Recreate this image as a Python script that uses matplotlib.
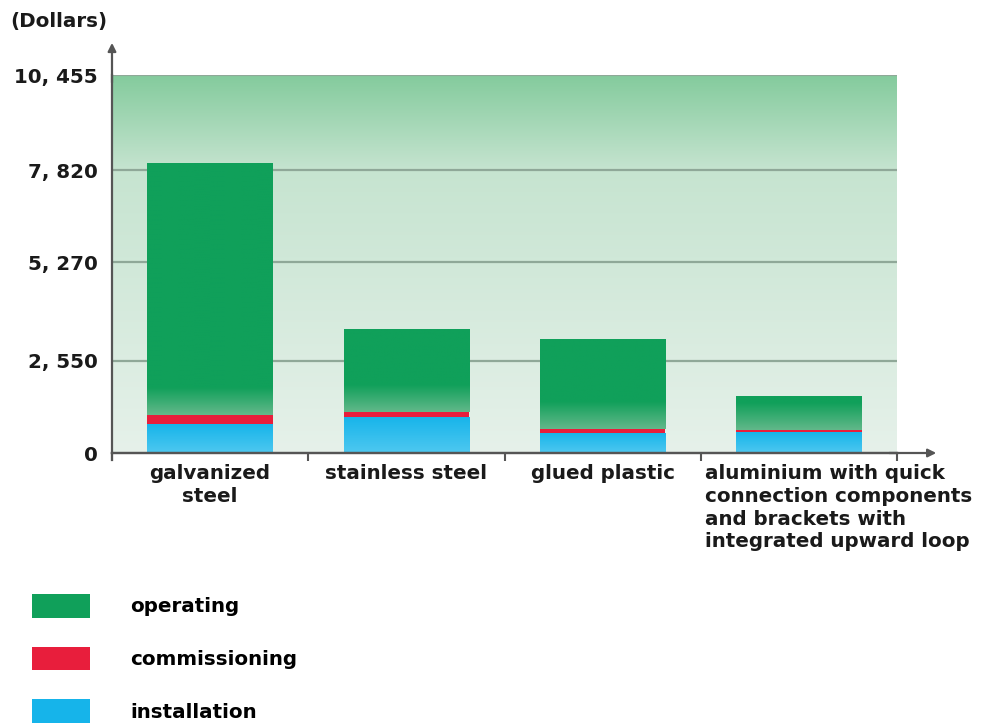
import numpy as np
import matplotlib
matplotlib.use("Agg")
import matplotlib.pyplot as plt
from matplotlib.patches import Patch
from matplotlib.colors import to_rgb
import matplotlib.transforms as mtransforms

# ---- data ----
categories = ["galvanized\nsteel", "stainless steel", "glued plastic",
              "aluminium with quick\nconnection components\nand brackets with\nintegrated upward loop"]
installation = [800, 1000, 555, 580]
commissioning = [250, 135, 110, 60]
operating = [6970, 2295, 2490, 935]
ytick_values = [0, 2550, 5270, 7820, 10455]
ytick_labels = ["0", "2, 550", "5, 270", "7, 820", "10, 455"]
series_names = ["operating", "commissioning", "installation"]

# ---- style ----
c_oper = "#10a05a"
c_oper_light = "#62b88a"
c_comm = "#e81e3c"
c_inst = "#16b4ea"
c_inst_light = "#4ec8f0"
axis_col = "#555555"
grid_col = "#8fa898"
FS = 14.3
plt.rcParams['font.family'] = ['DejaVu Sans']
plt.rcParams['font.weight'] = 'bold'

W, H = 988, 725
fig = plt.figure(figsize=(W / 100, H / 100), dpi=100)
ax = fig.add_axes([112 / W, 1 - 453 / H, (897 - 112) / W, (453 - 75) / H])

ymax = ytick_values[-1]
x = np.arange(len(categories))
width = 0.64

# background gradient
ny = 256
top = np.array(to_rgb("#84cb9d"))
mid = np.array(to_rgb("#c6e4d0"))
bot = np.array(to_rgb("#e6f1ea"))
img = np.zeros((ny, 2, 3))
for i, tv in enumerate(np.linspace(0, 1, ny)):
    if tv > 0.75:
        s = (tv - 0.75) / 0.25
        c = mid * (1 - s) + top * s
    else:
        s = tv / 0.75
        c = bot * (1 - s) + mid * s
    img[i, :, :] = c
ax.imshow(img, extent=[-0.5, 3.5, 0, ymax], origin="lower", aspect="auto", zorder=0,
          interpolation="bilinear")

# grid lines
for v in ytick_values[1:]:
    ax.axhline(v, color=grid_col, lw=1.6, zorder=1)

# bars
b_inst = ax.bar(x, installation, width, color=c_inst, zorder=2, linewidth=0)
bottom2 = np.array(installation)
b_comm = ax.bar(x, commissioning, width, bottom=bottom2, color=c_comm, zorder=2, linewidth=0)
bottom3 = bottom2 + np.array(commissioning)
b_oper = ax.bar(x, operating, width, bottom=bottom3, color=c_oper, zorder=2, linewidth=0)

def grad_fill(patch, c_bottom, c_top, fade):
    x0, y0 = patch.get_x(), patch.get_y()
    w_, h_ = patch.get_width(), patch.get_height()
    n = 200
    ys = np.linspace(0, h_, n)
    tt = np.clip(ys / fade, 0, 1)[:, None]
    cb, ct = np.array(to_rgb(c_bottom)), np.array(to_rgb(c_top))
    arr = np.zeros((n, 2, 3))
    arr[:, :, :] = (cb * (1 - tt) + ct * tt)[:, None, :]
    im = ax.imshow(arr, extent=[x0, x0 + w_, y0, y0 + h_], origin="lower",
                   aspect="auto", zorder=2.5, interpolation="bilinear")
    im.set_clip_path(patch)

for p in b_oper:
    grad_fill(p, c_oper_light, c_oper, 750)
for p in b_inst:
    grad_fill(p, c_inst_light, c_inst, p.get_height() * 1.0)

ax.set_xlim(-0.5, 3.5)
ax.set_ylim(0, ymax)

# spines / axes
for s in ["top", "right"]:
    ax.spines[s].set_visible(False)
for s in ["left", "bottom"]:
    ax.spines[s].set_color(axis_col)
    ax.spines[s].set_linewidth(1.6)

ax.annotate("", xy=(0, 1.085), xytext=(0, 0.98), xycoords="axes fraction",
            arrowprops=dict(arrowstyle="-|>", color=axis_col, lw=1.6,
                            mutation_scale=12, shrinkA=0, shrinkB=0))
ax.annotate("", xy=(1.05, 0), xytext=(0.99, 0), xycoords="axes fraction",
            arrowprops=dict(arrowstyle="-|>", color=axis_col, lw=1.6,
                            mutation_scale=12, shrinkA=0, shrinkB=0))
ax.plot([0, 1.0], [0, 0], transform=ax.transAxes, color=axis_col, lw=1.6, clip_on=False, zorder=5)
ax.plot([0, 0], [-0.018, 0], transform=ax.transAxes, color=axis_col, lw=1.6, clip_on=False, zorder=5)

ax.set_yticks(ytick_values)
ax.set_yticklabels(ytick_labels, fontsize=FS, fontweight="bold", color="#1a1a1a")
ax.tick_params(axis="y", length=0, pad=10)

ax.set_xticks(x)
ax.set_xticklabels(categories, fontsize=FS, fontweight="bold", color="#1a1a1a",
                   linespacing=1.25)
ax.tick_params(axis="x", length=0, pad=8)
ax.set_xticks(np.arange(-0.5, 4, 1.0), minor=True)
ax.tick_params(axis="x", which="minor", length=6, width=1.5, color=axis_col, direction="out")

lbls = ax.get_xticklabels()
last = lbls[-1]
last.set_horizontalalignment("left")
last.set_multialignment("left")
last.set_transform(last.get_transform() + mtransforms.ScaledTranslation(-0.94, 0, fig.dpi_scale_trans))
lbls[0].set_multialignment("center")

fig.text(10 / W, 1 - 22 / H, "(Dollars)", fontsize=FS, fontweight="bold",
         color="#1a1a1a", va="center", ha="left")

handles = [Patch(facecolor=c_oper), Patch(facecolor=c_comm), Patch(facecolor=c_inst)]
fs_px = FS * 100 / 72
fig.legend(handles, series_names, loc="upper left",
           bbox_to_anchor=(32 / W, 1 - 594 / H), frameon=False,
           prop=dict(size=FS, weight="bold"), borderpad=0, borderaxespad=0,
           handlelength=58 / fs_px, handleheight=1.2 * 24 / fs_px,
           labelspacing=(53 - 29) / fs_px + 5 / fs_px, handletextpad=40 / fs_px)

fig.savefig("out.png", dpi=100, facecolor="white")
